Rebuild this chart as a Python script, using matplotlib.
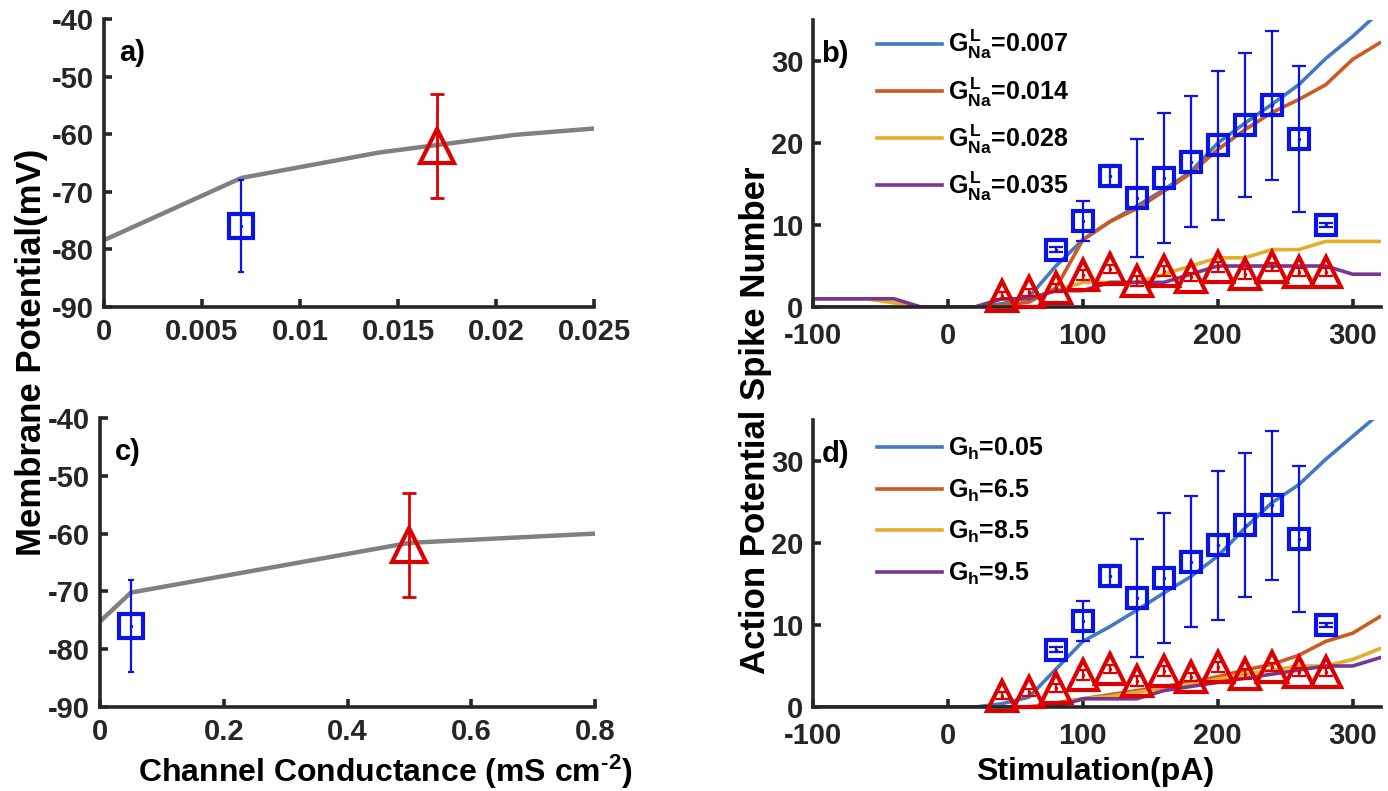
import matplotlib
matplotlib.use("Agg")
import matplotlib.pyplot as plt
import numpy as np

plt.rcParams['font.family'] = ['Liberation Sans', 'DejaVu Sans']
plt.rcParams['font.weight'] = 'bold'
plt.rcParams['axes.unicode_minus'] = False
plt.rcParams['mathtext.fontset'] = 'custom'
plt.rcParams['mathtext.rm'] = 'Liberation Sans:bold'
plt.rcParams['mathtext.bf'] = 'Liberation Sans:bold'
plt.rcParams['mathtext.it'] = 'Liberation Sans:bold'

# ---- resting potential vs conductance (panels a, c) ----
gna_sim = [0, 0.007, 0.014, 0.021, 0.028]
vm_gna_sim = [-78.4, -67.6, -63.2, -60.1, -58.2]
gh_sim = [0, 0.05, 0.5, 0.8]
vm_gh_sim = [-75.2, -70.2, -61.6, -60.0]

gna_exp = [0.007, 0.017]
gh_exp = [0.05, 0.5]
vm_exp = [-76, -62]
vm_err_lo = [8, 9]
vm_err_hi = [8, 9]

# ---- spike counts vs stimulation (panels b, d) ----
stim = [-100, -80, -60, -40, -20, 0, 20, 40, 60, 80, 100, 120, 140, 160,
        180, 200, 220, 240, 260, 280, 300, 320]

spk_na_007 = [0, 0, 0, 0, 0, 0, 0, 0.4, 1.2, 5.0, 8.2, 10.4, 12.3, 14.3,
              16.5, 20.0, 22.4, 24.7, 27.1, 30.3, 33.0, 36.0]
spk_na_014 = [0, 0, 0, 0, 0, 0, 0, 0.2, 0.6, 2.3, 8.2, 10.4, 12.0, 14.1,
              16.3, 19.2, 21.6, 23.7, 25.3, 27.1, 30.2, 32.2]
spk_na_028 = [1, 1, 1, 0.5, 0, 0, 0, 1, 1, 2, 3, 3, 3, 4,
              5, 6, 6, 7, 7, 8, 8, 8]
spk_na_035 = [1, 1, 1, 1, 0, 0, 0, 1, 1, 2, 2, 3, 3, 3,
              4, 5, 5, 5, 5, 5, 4, 4]

spk_h_005 = [0, 0, 0, 0, 0, 0, 0, 0.4, 1.2, 4.6, 8.0, 9.8, 11.8, 13.9,
             15.9, 18.4, 21.8, 24.9, 27.1, 30.2, 33.0, 35.8]
spk_h_65 = [0, 0, 0, 0, 0, 0, 0, 0, 0, 0.5, 1.0, 1.5, 2.0, 2.5,
            3.0, 3.7, 4.5, 5.2, 6.3, 8.0, 9.0, 11.0]
spk_h_85 = [0, 0, 0, 0, 0, 0, 0, 0, 0, 0.3, 1.0, 1.3, 1.8, 2.3,
            2.8, 3.4, 4.0, 4.5, 5.0, 5.0, 5.8, 7.1]
spk_h_95 = [0, 0, 0, 0, 0, 0, 0, 0, 0, 0, 1, 1, 1, 2,
            2.5, 3, 3.5, 4, 4.5, 5, 5, 6]

stim_exp_a = [80, 100, 120, 140, 160, 180, 200, 220, 240, 260, 280]
spk_exp_a = [7.0, 10.5, 16.0, 13.3, 15.7, 17.7, 19.7, 22.2, 24.6, 20.5, 10.0]
spk_err_a = [0.3, 2.4, 1.3, 7.2, 7.9, 8.0, 9.1, 8.8, 9.1, 8.9, 0.3]

stim_exp_b = [40, 60, 80, 100, 120, 140, 160, 180, 200, 220, 240, 260, 280]
spk_exp_b = [1.4, 1.8, 2.3, 3.9, 4.6, 3.2, 4.4, 3.7, 4.9, 4.0, 4.9, 4.3, 4.3]
spk_err_b = [0.4, 0.4, 0.5, 0.6, 0.5, 0.6, 0.6, 0.5, 0.6, 0.6, 0.5, 0.5, 0.5]

labels_na = [r'$G^{L}_{Na}$=0.007', r'$G^{L}_{Na}$=0.014',
             r'$G^{L}_{Na}$=0.028', r'$G^{L}_{Na}$=0.035']
labels_h = [r'$G_{h}$=0.05', r'$G_{h}$=6.5', r'$G_{h}$=8.5', r'$G_{h}$=9.5']

line_colors = ['#4379C0', '#CC5A22', '#E2AE2C', '#7A3590']
sq_color = '#0A14E6'
tri_color = '#DD0000'
axis_color = '#262626'
grey = '#808080'

W, H = 1388, 791
fig = plt.figure(figsize=(W / 100, H / 100), dpi=100)


def frac(l, t, r, b):
    return [l / W, 1 - b / H, (r - l) / W, (b - t) / H]


ax_a = fig.add_axes(frac(104, 19, 594, 307))
ax_b = fig.add_axes(frac(813, 20, 1381, 307))
ax_c = fig.add_axes(frac(100, 418, 595, 707))
ax_d = fig.add_axes(frac(813, 420, 1381, 707))


def style(ax, xpad):
    for side in ('top', 'right'):
        ax.spines[side].set_visible(False)
    for side in ('left', 'bottom'):
        ax.spines[side].set_linewidth(2.6)
        ax.spines[side].set_color(axis_color)
        ax.spines[side].set_capstyle('projecting')
    ax.tick_params(direction='in', length=6, width=2.6, color=axis_color,
                   labelcolor=axis_color, labelsize=21)
    ax.tick_params(axis='x', pad=xpad)
    ax.tick_params(axis='y', pad=7)
    for lab in ax.get_xticklabels() + ax.get_yticklabels():
        lab.set_fontweight('bold')


def vm_panel(ax, xs, ys, xe, xlim, xticks, xticklabels, tag):
    ax.plot(xs, ys, color=grey, lw=3.2, zorder=2)
    ax.errorbar([xe[0]], [vm_exp[0]], yerr=[[vm_err_lo[0]], [vm_err_hi[0]]],
                fmt='.', color=sq_color, ms=3, elinewidth=1.6, capsize=2.5,
                capthick=1.6, zorder=3)
    ax.plot([xe[0]], [vm_exp[0]], 's', mfc='none', mec=sq_color, ms=17,
            mew=3, zorder=4)
    ax.errorbar([xe[1]], [vm_exp[1]], yerr=[[vm_err_lo[1]], [vm_err_hi[1]]],
                fmt='.', color=tri_color, ms=3, elinewidth=2, capsize=5,
                capthick=2, zorder=3)
    ax.plot([xe[1]], [vm_exp[1]], '^', mfc='none', mec=tri_color, ms=24,
            mew=3, zorder=4)
    ax.set_xlim(*xlim)
    ax.set_ylim(-90, -40)
    ax.set_xticks(xticks)
    ax.set_xticklabels(xticklabels)
    ax.set_yticks([-90, -80, -70, -60, -50, -40])
    ax.text(0.03, 0.93, tag, transform=ax.transAxes, fontsize=21,
            fontweight='bold', va='top', ha='left', color='black')
    style(ax, 8)


vm_panel(ax_a, gna_sim, vm_gna_sim, gna_exp, (0, 0.025),
         [0, 0.005, 0.01, 0.015, 0.02, 0.025],
         ['0', '0.005', '0.01', '0.015', '0.02', '0.025'], 'a)')
vm_panel(ax_c, gh_sim, vm_gh_sim, gh_exp, (0, 0.8),
         [0, 0.2, 0.4, 0.6, 0.8], ['0', '0.2', '0.4', '0.6', '0.8'], 'c)')


def spike_panel(ax, series, labels, tag, spacing, anchor_y):
    for ys, lab, col in zip(series, labels, line_colors):
        ax.plot(stim, ys, color=col, lw=2.6, label=lab, zorder=2,
                clip_on=True)
    ax.errorbar(stim_exp_a, spk_exp_a, yerr=spk_err_a, fmt='.',
                color=sq_color, ms=3, elinewidth=1.6, capsize=5,
                capthick=1.6, zorder=3)
    ax.plot(stim_exp_a, spk_exp_a, 's', mfc='none', mec=sq_color, ms=15,
            mew=3, ls='none', zorder=4)
    ax.errorbar(stim_exp_b, spk_exp_b, yerr=spk_err_b, fmt='.',
                color=tri_color, ms=3, elinewidth=1.6, capsize=5,
                capthick=1.6, zorder=3)
    ax.plot(stim_exp_b, spk_exp_b, '^', mfc='none', mec=tri_color, ms=21,
            mew=3, ls='none', zorder=4, clip_on=False)
    ax.set_xlim(-100, 321)
    ax.set_ylim(0, 35)
    ax.set_xticks([-100, 0, 100, 200, 300])
    ax.set_yticks([0, 10, 20, 30])
    ax.text(0.015, 0.93, tag, transform=ax.transAxes, fontsize=21,
            fontweight='bold', va='top', ha='left', color='black')
    leg = ax.legend(loc='upper left', bbox_to_anchor=(0.095, anchor_y),
                    frameon=False, fontsize=18, handlelength=2.6,
                    handletextpad=0.25, labelspacing=spacing,
                    borderaxespad=0)
    for t in leg.get_texts():
        t.set_fontweight('bold')
    style(ax, 11)


spike_panel(ax_b, [spk_na_007, spk_na_014, spk_na_028, spk_na_035],
            labels_na, 'b)', 0.55, 1.007)
spike_panel(ax_d, [spk_h_005, spk_h_65, spk_h_85, spk_h_95],
            labels_h, 'd)', 0.62, 0.98)

fig.text(32 / W, 1 - 352 / H, 'Membrane Potential(mV)', rotation=90,
         ha='center', va='center', fontsize=25, fontweight='bold')
fig.text(755 / W, 1 - 420 / H, 'Action Potential Spike Number', rotation=90,
         ha='center', va='center', fontsize=25, fontweight='bold')
fig.text(385 / W, 1 - 772 / H, r'Channel Conductance (mS cm$^{\text{-}2}$)',
         ha='center', va='center', fontsize=23, fontweight='bold')
fig.text(1095 / W, 1 - 772 / H, 'Stimulation(pA)',
         ha='center', va='center', fontsize=23, fontweight='bold')

fig.savefig('out.png', dpi=100, facecolor='white')
